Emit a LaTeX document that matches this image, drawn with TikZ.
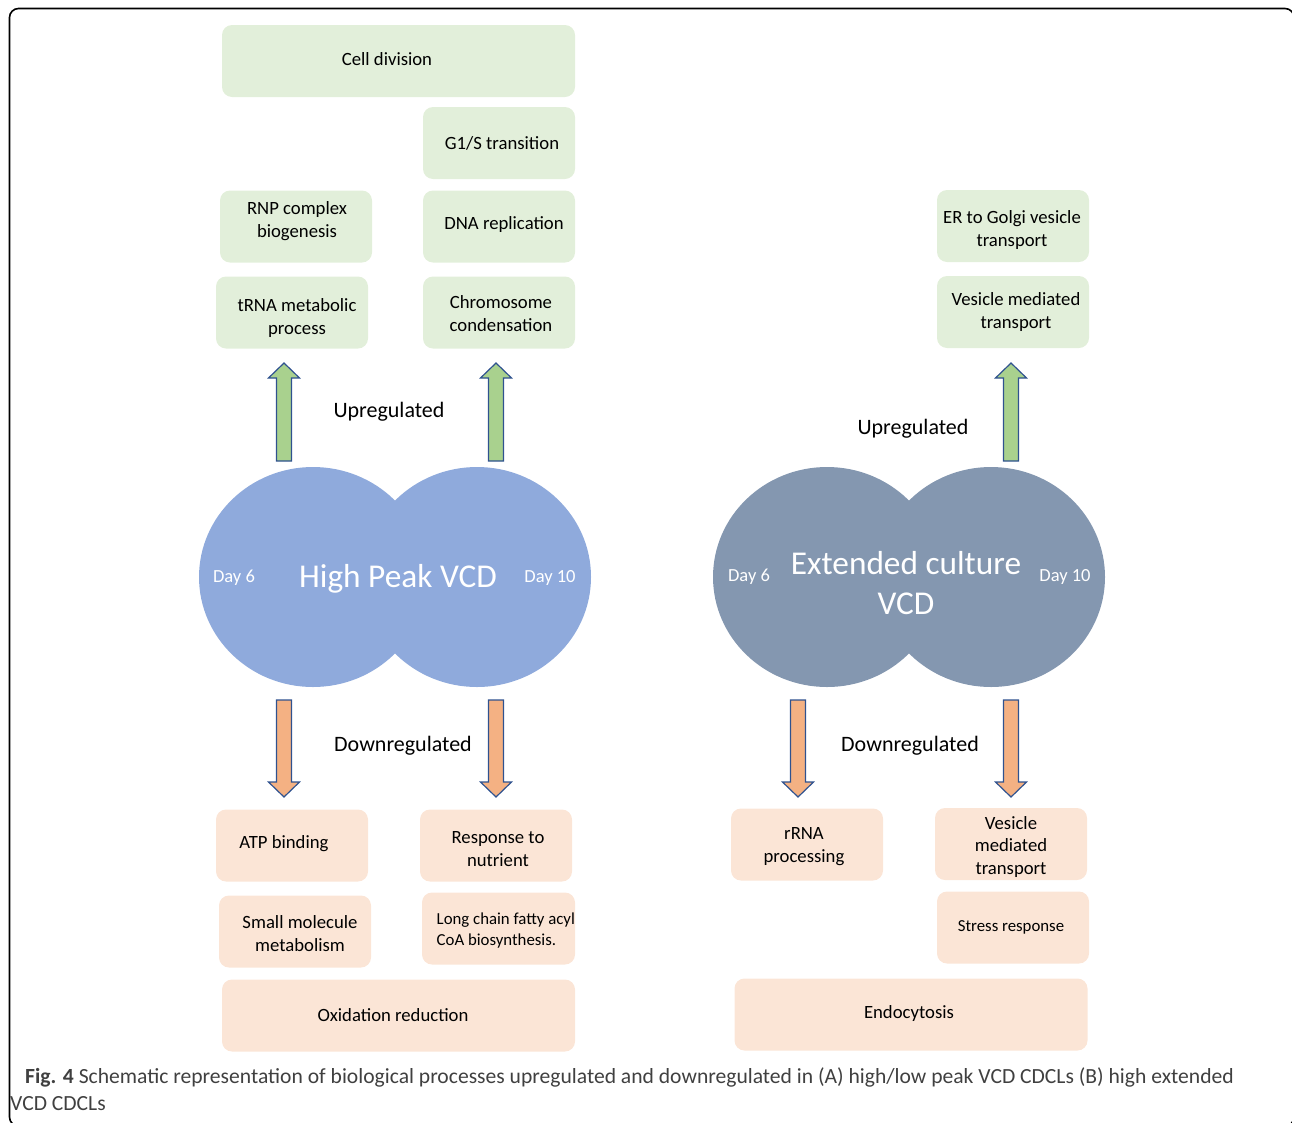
\documentclass[tikz,border=0pt]{standalone}
\usepackage{fontspec}
\setmainfont{Carlito}
\usetikzlibrary{shapes.geometric}
\definecolor{upgreen}{RGB}{169,209,142}
\definecolor{boxgreen}{RGB}{226,239,218}
\definecolor{boxpeach}{RGB}{251,229,214}
\definecolor{downorange}{RGB}{244,177,131}
\definecolor{arrowblue}{RGB}{47,82,143}
\definecolor{blobA}{RGB}{143,170,220}
\definecolor{blobB}{RGB}{132,151,176}
\definecolor{captiongray}{RGB}{64,64,64}
\tikzset{
  boxbase/.style={rectangle, rounded corners=10pt, inner sep=0pt, minimum width=152pt, minimum height=72pt},
  gbox/.style={boxbase, fill=boxgreen},
  pbox/.style={boxbase, fill=boxpeach},
  widebox/.style={minimum width=353pt},
  boxtext/.style={inner sep=0pt, align=center, font=\fontsize{18.7}{23}\selectfont, text=black},
  smalltext/.style={boxtext, font=\fontsize{16.8}{21}\selectfont},
  blob/.style={ellipse, inner sep=0pt, minimum width=228pt, minimum height=220pt},
  daylabel/.style={text=white, font=\fontsize{18.5}{22}\selectfont},
  biglabel/.style={text=white, font=\fontsize{33.3}{40}\selectfont, align=center},
  reglabel/.style={font=\fontsize{22}{26}\selectfont},
  captext/.style={anchor=base west, inner sep=0pt, text=captiongray, font=\fontsize{21.6}{26}\selectfont},
  arrowline/.style={draw=arrowblue, line width=1.2pt, line join=miter},
  uparr/.pic={\draw[arrowline, fill=upgreen] (-7.5,0) -- (-7.5,-83) -- (-15.5,-83) -- (0,-98) -- (15.5,-83) -- (7.5,-83) -- (7.5,0) -- cycle;},
  downarr/.pic={\draw[arrowline, fill=downorange] (-7.5,0) -- (-7.5,82) -- (-15.5,82) -- (0,97) -- (15.5,82) -- (7.5,82) -- (7.5,0) -- cycle;}
}
\begin{document}
\begin{tikzpicture}[x=1pt,y=-1pt]
\useasboundingbox (0,0) rectangle (1292,1122);
\begin{scope}
\clip (0,0) rectangle (1292,1122);
\draw[line width=1.6pt, rounded corners=9pt] (9.5,8.5) rectangle (1294,1126);
\end{scope}

% ---------- left group: upregulated ----------
\node[gbox, widebox] (celldiv) at (398.5,61) {};
\node[boxtext] (celldivT) at (387,59) {Cell division};
\node[gbox] (g1s) at (499,143) {};
\node[boxtext] (g1sT) at (502,143) {G1/S transition};
\node[gbox] (rnp) at (296,226.5) {};
\node[boxtext] (rnpT) at (297,221.5) {RNP complex\\biogenesis};
\node[gbox] (dnarep) at (499,226.5) {};
\node[boxtext] (dnarepT) at (504,225) {DNA replication};
\node[gbox] (trna) at (292,312.5) {};
\node[boxtext] (trnaT) at (297,318.5) {tRNA metabolic\\process};
\node[gbox] (chrom) at (499,312.5) {};
\node[boxtext] (chromT) at (501,313.5) {Chromosome\\condensation};

\pic at (284,461) {uparr};
\pic at (496,461) {uparr};
\node[reglabel] (upA) at (389,412) {Upregulated};

% blobs left
\node[blob, fill=blobA] (blobA1) at (313,577) {};
\node[blob, fill=blobA] (blobA2) at (477,577) {};
\node[daylabel] (dayA6) at (234,578) {Day 6};
\node[daylabel] (dayA10) at (550,578) {Day 10};
\node[biglabel] (hpvcd) at (398,579) {High Peak VCD};

\pic at (284,700) {downarr};
\pic at (496,700) {downarr};
\node[reglabel] (downA) at (403,746) {Downregulated};

% ---------- left group: downregulated ----------
\node[pbox] (atp) at (292,845.5) {};
\node[boxtext] (atpT) at (284,844) {ATP binding};
\node[pbox] (resp) at (496,845.5) {};
\node[boxtext] (respT) at (498,849.5) {Response to\\nutrient};
\node[pbox] (small) at (295,931.5) {};
\node[boxtext] (smallT) at (300,933.5) {Small molecule\\metabolism};
\node[pbox, minimum width=153pt] (longc) at (498.5,928.5) {};
\node[smalltext, anchor=west, align=left] (longcT) at (436.5,930.5) {Long chain fatty acyl\\CoA biosynthesis.};
\node[pbox, widebox] (oxid) at (398.5,1015.5) {};
\node[boxtext] (oxidT) at (393,1015) {Oxidation reduction};

% ---------- right group: upregulated ----------
\node[gbox] (ergolgi) at (1013,226) {};
\node[boxtext] (ergolgiT) at (1012,230.5) {ER to Golgi vesicle\\transport};
\node[gbox] (vesup) at (1013,312) {};
\node[boxtext] (vesupT) at (1016,312.5) {Vesicle mediated\\transport};
\pic at (1011,461) {uparr};
\node[reglabel] (upB) at (913,429) {Upregulated};

% blobs right
\node[blob, fill=blobB] (blobB1) at (827,577) {};
\node[blob, fill=blobB] (blobB2) at (991,577) {};
\node[daylabel] (dayB6) at (749,577) {Day 6};
\node[daylabel] (dayB10) at (1065,577) {Day 10};
\node[biglabel] (ecvcd) at (906,583) {Extended culture\\VCD};

\pic at (798,700) {downarr};
\pic at (1011,700) {downarr};
\node[reglabel] (downB) at (910,746) {Downregulated};

% ---------- right group: downregulated ----------
\node[pbox] (rrna) at (807,844.5) {};
\node[boxtext] (rrnaT) at (804,847) {rRNA\\processing};
\node[pbox] (vesdown) at (1011,844) {};
\node[boxtext, font=\fontsize{18.7}{22.5}\selectfont] (vesdownT) at (1011,846.5) {Vesicle\\mediated\\transport};
\node[pbox] (stress) at (1013,927.5) {};
\node[smalltext] (stressT) at (1011,927) {Stress response};
\node[pbox, widebox] (endo) at (911,1014.5) {};
\node[boxtext] (endoT) at (909,1013) {Endocytosis};

% ---------- caption ----------
\node[captext] (cap1) at (25,1083) {\textbf{Fig. 4} Schematic representation of biological processes upregulated and downregulated in (A) high/low peak VCD CDCLs (B) high extended};
\node[captext] (cap2) at (10,1110) {VCD CDCLs};
\end{tikzpicture}
\end{document}
